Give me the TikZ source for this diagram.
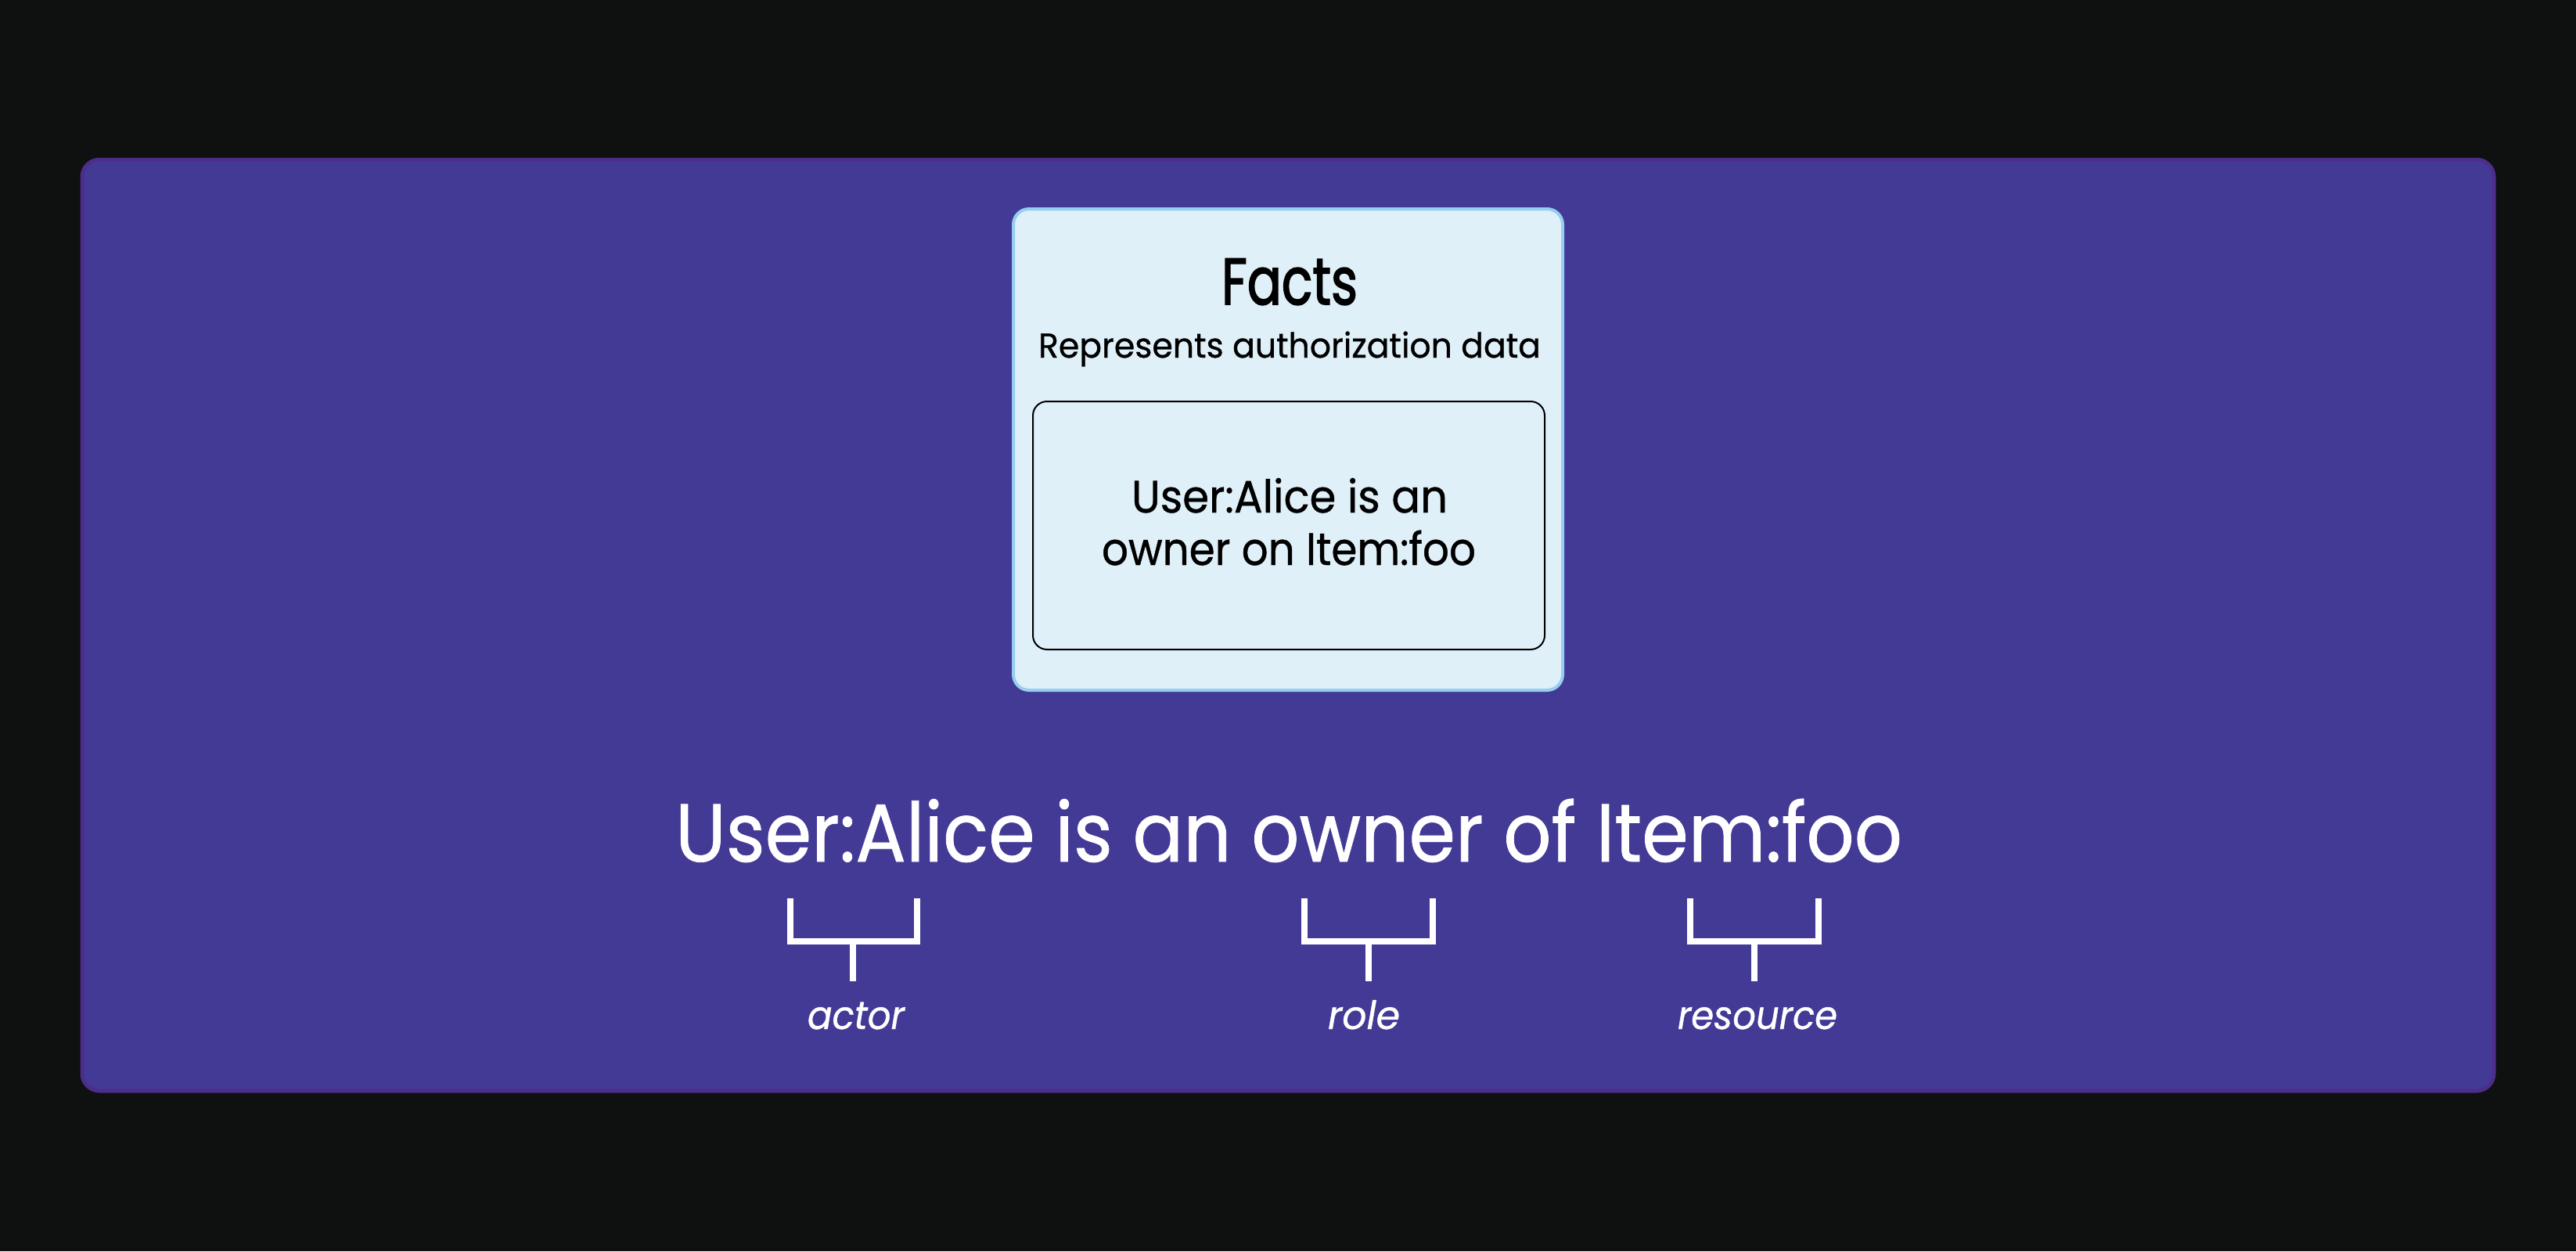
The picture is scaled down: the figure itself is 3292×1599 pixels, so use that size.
\documentclass[tikz,border=0pt]{standalone}
\usepackage{fontspec}
\usepackage{graphicx}
\setmainfont{Poppins}[FakeBold=0.8]
\newfontfamily\titlefont{Poppins}[FakeBold=2.2]
\definecolor{bgcol}{RGB}{15,16,16}
\definecolor{panelfill}{RGB}{67,58,150}
\definecolor{panelline}{RGB}{76,46,138}
\definecolor{factfill}{RGB}{224,240,248}
\definecolor{factline}{RGB}{150,205,240}
\newcommand\fitw[2]{\resizebox{#1}{\height}{#2}}
\tikzset{
  panel/.style={draw=panelline, fill=panelfill, line width=5pt, rounded corners=22pt, inner sep=0pt},
  factbox/.style={draw=factline, fill=factfill, line width=4pt, rounded corners=20pt, inner sep=0pt},
  innerbox/.style={draw=black, fill=factfill, line width=2pt, rounded corners=18pt, inner sep=0pt},
  txt/.style={inner sep=0pt, anchor=base},
  bracketline/.style={draw=white, line width=8pt},
  lbl/.style={inner sep=0pt, anchor=base, text=white, font=\fontsize{50}{54}\selectfont\itshape},
}
\begin{document}
\begin{tikzpicture}[x=1pt,y=-1pt]
\useasboundingbox (0,0) rectangle (3292,1599);
\fill[bgcol] (0,0) rectangle (3292,1599);
\node[panel, minimum width=3082pt, minimum height=1190pt] (panelbox) at (1646,799) {};
\node[factbox, minimum width=702pt, minimum height=615pt] (facts) at (1646,574.5) {};
\node[innerbox, minimum width=654pt, minimum height=317pt] (inner) at (1647,671.5) {};
\node[txt, font=\fontsize{84}{88}\selectfont\titlefont] (title) at (1648,389) {\fitw{174pt}{Facts}};
\node[txt, font=\fontsize{44}{48}\selectfont] (subtitle) at (1648,457) {\fitw{642pt}{Represents authorization data}};
\node[txt, font=\fontsize{58}{62}\selectfont] (fact1) at (1648,655) {\fitw{404pt}{User:Alice is an}};
\node[txt, font=\fontsize{58}{62}\selectfont] (fact2) at (1647,722) {\fitw{478pt}{owner on Item:foo}};
\node[txt, text=white, font=\fontsize{105}{110}\selectfont] (sentence) at (1647,1101) {\fitw{1568pt}{User:Alice is an owner of Item:foo}};
% brackets
\foreach \nm/\xl/\xr/\xm in {actor/1010/1172/1090, role/1667/1831/1749, resource/2160/2324/2242}{
  \coordinate (\nm-tl) at (\xl,1148);
  \coordinate (\nm-bl) at (\xl,1203);
  \coordinate (\nm-br) at (\xr,1203);
  \coordinate (\nm-tr) at (\xr,1148);
  \coordinate (\nm-sm) at (\xm,1203);
  \coordinate (\nm-sb) at (\xm,1254);
  \draw[bracketline] (\nm-tl) -- (\nm-bl) -- (\nm-br) -- (\nm-tr);
  \draw[bracketline] (\nm-sm) -- (\nm-sb);
}
\node[lbl] (actorlbl) at (1094,1315) {\fitw{124pt}{actor}};
\node[lbl] (rolelbl) at (1743,1315) {\fitw{92pt}{role}};
\node[lbl] (resourcelbl) at (2246,1315) {\fitw{204pt}{resource}};
\end{tikzpicture}
\end{document}
